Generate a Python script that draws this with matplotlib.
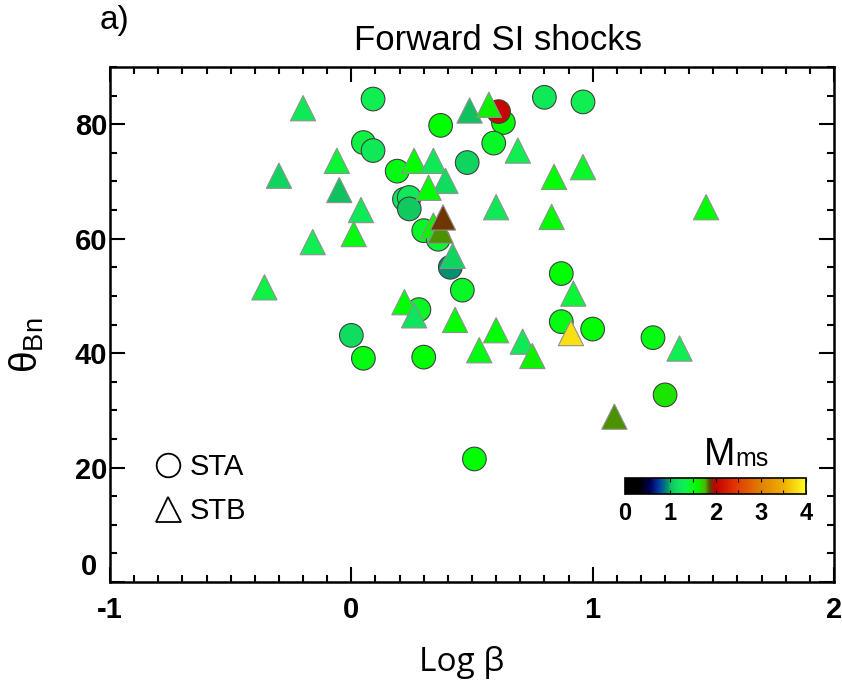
import numpy as np
import matplotlib
matplotlib.use('Agg')
import matplotlib.pyplot as plt
from matplotlib.transforms import offset_copy
from matplotlib.colors import LinearSegmentedColormap, Normalize
from matplotlib.lines import Line2D
from matplotlib.ticker import MultipleLocator, FuncFormatter

# STA shocks (circles): log beta, theta_Bn, Mms
sta_logb = [0.09, 0.05, 0.09, 0.37, 0.19, 0.48, 0.22, 0.24, 0.24, 0.30, 0.36, 0.41, 0.46, 0.28,
            0.00, 0.05, 0.30, 0.51, 0.63, 0.61, 0.59, 0.80, 0.96, 0.87, 0.87, 1.00, 1.25, 1.30]
sta_theta = [84.4, 76.8, 75.4, 79.8, 71.8, 73.3, 66.9, 67.2, 65.2, 61.4, 59.9, 55.0, 51.0, 47.6,
             43.1, 39.1, 39.3, 21.5, 80.3, 82.2, 76.7, 84.7, 83.9, 53.9, 45.5, 44.2, 42.7, 32.7]
sta_mms = [1.3, 1.35, 1.25, 1.55, 1.5, 1.1, 1.2, 1.25, 1.05, 1.45, 1.4, 0.95, 1.45, 1.45,
           1.15, 1.5, 1.55, 1.55, 1.55, 2.05, 1.45, 1.25, 1.3, 1.55, 1.5, 1.55, 1.5, 1.65]

# STB shocks (triangles)
stb_logb = [-0.20, -0.30, -0.06, -0.05, 0.04, 0.01, -0.16, -0.36, 0.26, 0.34, 0.39, 0.32, 0.49,
            0.34, 0.37, 0.38, 0.42, 0.22, 0.26, 0.43, 0.57, 0.69, 0.84, 0.96, 0.60, 0.83, 1.47,
            0.92, 0.60, 0.53, 0.71, 0.75, 0.91, 1.36, 1.09]
stb_theta = [82.8, 71.0, 73.6, 68.5, 65.0, 60.8, 59.4, 51.5, 73.6, 73.6, 70.1, 68.9, 82.4,
             62.3, 61.4, 63.7, 57.0, 48.9, 46.6, 45.8, 83.4, 75.4, 70.8, 72.5, 65.5, 63.8, 65.5,
             50.4, 44.0, 40.5, 42.0, 39.5, 43.5, 40.8, 28.9]
stb_mms = [1.25, 1.1, 1.4, 1.0, 1.25, 1.5, 1.3, 1.35, 1.55, 1.25, 1.15, 1.55, 1.0,
           1.6, 1.8, 1.9, 1.1, 1.55, 1.2, 1.55, 1.6, 1.3, 1.55, 1.45, 1.25, 1.55, 1.55,
           1.4, 1.55, 1.5, 1.25, 1.6, 3.8, 1.3, 1.8]

cmap = LinearSegmentedColormap.from_list('mms', [
    (0.0, '#000000'), (0.08, '#000000'), (0.14, '#000060'), (0.19, '#0040a0'),
    (0.235, '#009070'), (0.25, '#10c060'), (0.29, '#10e060'), (0.33, '#10f050'),
    (0.39, '#00ff00'), (0.44, '#40c000'), (0.47, '#604000'), (0.50, '#c00000'),
    (0.60, '#e03000'), (0.75, '#e08000'), (0.88, '#f0b000'), (1.0, '#ffff20')])
norm = Normalize(0, 4)

plt.rcParams['font.family'] = ['Liberation Sans', 'DejaVu Sans']
plt.rcParams['axes.unicode_minus'] = False

fig = plt.figure(figsize=(8.42, 6.88), dpi=100)
ax = fig.add_axes([110/842, 1 - 582/688, 724/842, 515/688])

ax.scatter(stb_logb, stb_theta, c=stb_mms, cmap=cmap, norm=norm, marker='^', s=330,
           edgecolors='#909090', linewidths=0.8, zorder=3)
ax.scatter(sta_logb, sta_theta, c=sta_mms, cmap=cmap, norm=norm, marker='o', s=290,
           edgecolors='#404040', linewidths=0.8, zorder=2)

ax.set_xlim(-1, 2)
ax.set_ylim(0, 90)
ax.xaxis.set_major_locator(MultipleLocator(1))
ax.xaxis.set_minor_locator(MultipleLocator(0.1))
ax.yaxis.set_major_locator(MultipleLocator(20))
ax.yaxis.set_minor_locator(MultipleLocator(5))
# y zero label is drawn by hand a bit higher up
ax.yaxis.set_major_formatter(FuncFormatter(lambda v, p: '' if v == 0 else '%d' % v))
ax.tick_params(which='both', direction='in', top=True, right=True, width=1.5, labelsize=21)
ax.tick_params(which='major', length=11)
ax.tick_params(axis='x', which='major', pad=10)
ax.tick_params(axis='y', which='major', pad=2)
ax.tick_params(which='minor', length=5)
for lab in ax.get_xticklabels() + ax.get_yticklabels():
    lab.set_fontweight('bold')
for sp in ax.spines.values():
    sp.set_linewidth(1.8)
ax.text(0, 2.6, '0', fontsize=21, fontweight='bold', ha='right', va='center',
        transform=offset_copy(ax.get_yaxis_transform(), fig, x=-9, units='points'))

ax.set_xlabel('Log β', fontsize=24, family='Open Sans')
ax.xaxis.set_label_coords(0.486, -0.125)
ax.set_ylabel(r'$\mathregular{\theta_{Bn}}$', fontsize=28)
ax.yaxis.set_label_coords(-0.088, 0.46)
fig.text(498/842, 1 - 40/688, 'Forward SI shocks', fontsize=25, ha='center', va='center')
fig.text(100/842, 1 - 20/688, 'a)', fontsize=24, ha='left', va='center')

handles = [Line2D([], [], marker='o', ls='none', mfc='none', mec='black', ms=17, mew=1.3),
           Line2D([], [], marker='^', ls='none', mfc='none', mec='black', ms=18, mew=1.3)]
ax.legend(handles, ['STA', 'STB'], loc='lower left', bbox_to_anchor=(0.034, 0.082), frameon=False,
          fontsize=21, handletextpad=0.1, labelspacing=0.55, borderpad=0, handlelength=1.3)

cax = fig.add_axes([625/842, 1 - 494/688, 181/842, 16/688])
sm = matplotlib.cm.ScalarMappable(norm=norm, cmap=cmap)
cb = fig.colorbar(sm, cax=cax, orientation='horizontal')
cb.outline.set_linewidth(1.2)
cb.set_ticks([0, 1, 2, 3, 4])
cax.xaxis.set_minor_locator(MultipleLocator(0.5))
cax.tick_params(which='both', direction='in', top=True, length=3, width=0.8, labelsize=17, pad=6)
for lab in cax.get_xticklabels():
    lab.set_fontweight('bold')
fig.text(735/842, 1 - 455/688, 'M', fontsize=27, ha='right', va='center')
fig.text(735/842, 1 - 459/688, 'ms', fontsize=18, ha='left', va='center')

fig.savefig('out.png', dpi=100)
